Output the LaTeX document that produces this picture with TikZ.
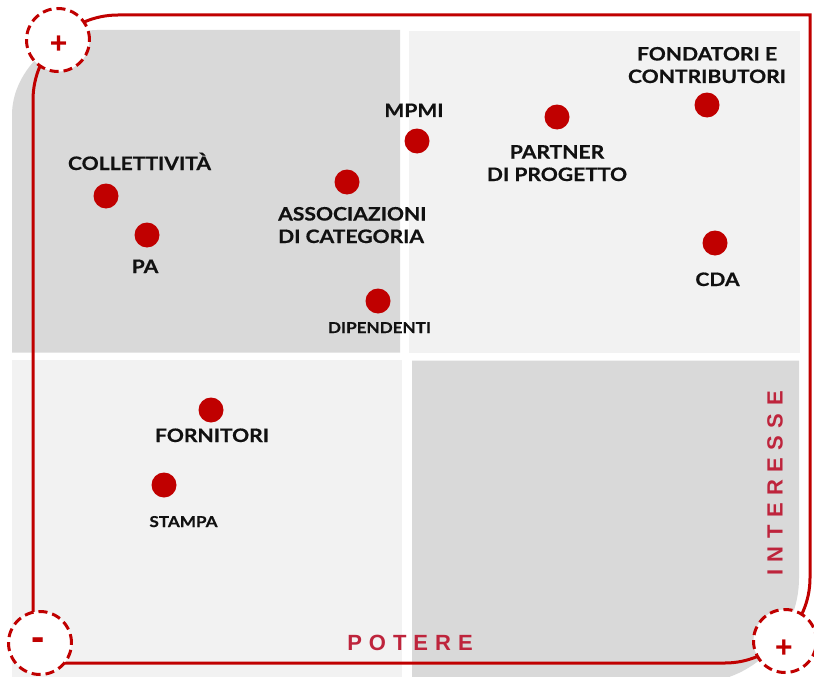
\documentclass[tikz,border=0pt]{standalone}
\usepackage{fontspec}
\setmainfont{Lato}
\newfontfamily\lblfont{Lato}[FakeStretch=1.14, BoldFeatures={FakeStretch=1.14, FakeBold=0.6}]
\newfontfamily\axisfont{Liberation Sans}
\definecolor{qdark}{HTML}{D9D9D9}
\definecolor{qlight}{HTML}{F2F2F2}
\definecolor{fred}{HTML}{C00000}
\definecolor{axisred}{RGB}{190,36,60}
\definecolor{ink}{HTML}{111111}
\tikzset{
  frame/.style={draw=fred, line width=3pt, line join=miter},
  corner/.style={circle, minimum size=63pt, inner sep=0pt, fill=white, draw=fred, line width=3pt, dash pattern=on 9pt off 5pt},
  sign/.style={inner sep=0pt, text=fred, font=\axisfont\bfseries\fontsize{30}{30}\selectfont},
  axislbl/.style={inner sep=0pt, text=axisred, font=\axisfont\bfseries\fontsize{22}{22}\selectfont},
  lbl/.style={inner sep=0pt, anchor=base, text=ink, align=center, font=\lblfont\bfseries\fontsize{18.5}{22.5}\selectfont},
  smalllbl/.style={lbl, font=\lblfont\bfseries\fontsize{15}{18}\selectfont},
  dot/.style={circle, fill=fred, minimum size=25pt, inner sep=0pt}
}
\begin{document}
\begin{tikzpicture}[x=1pt,y=-1pt]
\useasboundingbox (0,0) rectangle (814,677);
\fill[white] (0,0) rectangle (814,677);
% quadrants
\fill[qdark] (12,352.5) -- (12,115) .. controls (12,68.06) and (58.94,30) .. (97,30) -- (400,30) -- (400,352.5) -- cycle;
\fill[qlight] (409,31) rectangle (799.5,352.5);
\fill[qlight] (12,360) rectangle (402,680);
\fill[qdark] (412,360.5) -- (799,360.5) -- (799,578) .. controls (799,635.99) and (751.99,683) .. (694,683) -- (412,683) -- cycle;
% frame
\draw[frame] (33,663) -- (33,100) .. controls (33,53.05) and (71.05,15) .. (118,15) -- (810,15) -- (810,578) .. controls (810,624.95) and (771.05,663) .. (725,663) -- cycle;
% corner circles
\node[corner] (cTL) at (58,40) {};
\node[corner] (cBL) at (40,643) {};
\node[corner] (cBR) at (785,641) {};
\node[sign] (sTL) at (58.7,45) {+};
\node[sign, font=\axisfont\bfseries\fontsize{40}{40}\selectfont] (sBL) at (38.5,644.5) {-};
\node[sign] (sBR) at (784,649) {+};
% axis labels
\node[axislbl] (potere) at (410,643) {P\hskip7pt O\hskip7pt T\hskip7pt E\hskip7pt R\hskip7pt E};
\node[axislbl, rotate=90] (interesse) at (775,483.5) {I\hskip7.5pt N\hskip7.5pt T\hskip7.5pt E\hskip7.5pt R\hskip7.5pt E\hskip7.5pt S\hskip7.5pt S\hskip7.5pt E};
% dots
\node[dot] (dColl) at (106,196) {};
\node[dot] (dPA) at (147,235) {};
\node[dot] (dForn) at (211,410) {};
\node[dot] (dStampa) at (164,485) {};
\node[dot] (dAssoc) at (347,182) {};
\node[dot] (dMPMI) at (417,141) {};
\node[dot] (dDip) at (378,301) {};
\node[dot] (dPartner) at (557,117) {};
\node[dot] (dFond) at (707,105) {};
\node[dot] (dCDA) at (715,243) {};
% labels
\node[lbl] (tColl) at (139.5,170) {COLLETTIVITÀ};
\node[lbl] (tPA) at (145,273) {PA};
\node[lbl] (tForn) at (212,442) {FORNITORI};
\node[smalllbl] (tStampa) at (183.5,527) {STAMPA};
\node[lbl, anchor=base west, align=left] (tAssoc) at (278,243) {ASSOCIAZIONI\\DI CATEGORIA};
\node[lbl] (tMPMI) at (414,117) {MPMI};
\node[smalllbl] (tDip) at (379.5,333) {DIPENDENTI};
\node[lbl] (tPartner) at (557,181) {PARTNER\\DI PROGETTO};
\node[lbl] (tFond) at (707,83) {FONDATORI E\\CONTRIBUTORI};
\node[lbl] (tCDA) at (717.5,286) {CDA};
\end{tikzpicture}
\end{document}
